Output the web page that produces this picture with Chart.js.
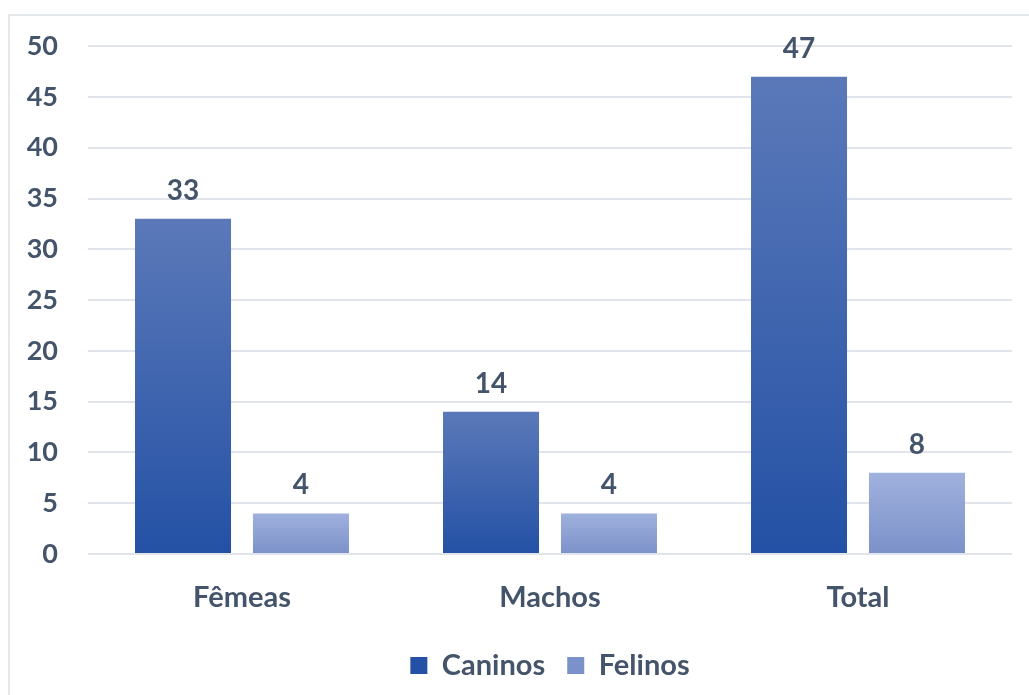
<!DOCTYPE html>
<html>
<head>
<meta charset="utf-8">
<script src="https://cdn.jsdelivr.net/npm/chart.js@4/dist/chart.umd.min.js"></script>
<style>
  html, body { margin: 0; padding: 0; background: #fff; }
  #frame { position: absolute; left: 8px; top: 14px; width: 1040px; height: 700px; border: 2px solid #e4e7eb; box-sizing: border-box; }
  #wrap { position: absolute; left: 0; top: 0; width: 1029px; height: 695px; }
</style>
</head>
<body>
<div id="frame"></div>
<div id="wrap"><canvas id="chart"></canvas></div>
<script>
const categories = ['Fêmeas', 'Machos', 'Total'];
const caninos = [33, 14, 47];
const felinos = [4, 4, 8];
const yTicks = [0, 5, 10, 15, 20, 25, 30, 35, 40, 45, 50];

const textColor = '#44546a';
const fontFamily = 'Lato, "Open Sans", sans-serif';

function barGradient(top, bottom) {
  return function (context) {
    const chart = context.chart;
    if (!chart.chartArea || context.dataIndex === undefined) return bottom;
    const y = chart.scales.y;
    const y0 = y.getPixelForValue(context.raw);
    const y1 = y.getPixelForValue(0);
    const g = chart.ctx.createLinearGradient(0, y0, 0, y1);
    g.addColorStop(0, top);
    g.addColorStop(1, bottom);
    return g;
  };
}

const valueLabels = {
  id: 'valueLabels',
  afterDatasetsDraw(chart) {
    const ctx = chart.ctx;
    ctx.save();
    ctx.fillStyle = textColor;
    ctx.font = 'bold 28px ' + fontFamily;
    ctx.textAlign = 'center';
    ctx.textBaseline = 'alphabetic';
    chart.data.datasets.forEach((ds, i) => {
      chart.getDatasetMeta(i).data.forEach((bar, j) => {
        ctx.fillText(ds.data[j], bar.x, bar.y - 19);
      });
    });
    ctx.restore();
  },
};

const ctx = document.getElementById('chart').getContext('2d');
new Chart(ctx, {
  type: 'bar',
  data: {
    labels: categories,
    datasets: [
      {
        label: 'Caninos',
        data: caninos,
        backgroundColor: barGradient('#5b79b9', '#2451a5'),
      },
      {
        label: 'Felinos',
        data: felinos,
        backgroundColor: barGradient('#a0b1dd', '#7b91c9'),
      },
    ],
  },
  options: {
    responsive: true,
    maintainAspectRatio: false,
    animation: false,
    categoryPercentage: 0.766,
    barPercentage: 0.814,
    layout: { padding: { left: 0, right: 17, top: 42, bottom: 5 } },
    scales: {
      x: {
        grid: { display: false },
        border: { display: false },
        afterFit(scale) { scale.height = 75; },
        ticks: {
          color: textColor,
          font: { family: fontFamily, size: 29, weight: 'bold' },
          padding: 18,
        },
      },
      y: {
        min: 0,
        max: 50,
        afterFit(scale) { scale.width = 88; },
        afterBuildTicks(scale) { scale.ticks = yTicks.map(v => ({ value: v })); },
        grid: { color: '#e1e4ea', lineWidth: 2, drawTicks: false },
        border: { display: false },
        ticks: {
          color: textColor,
          font: { family: fontFamily, size: 27, weight: 'bold' },
          padding: 30,
        },
      },
    },
    plugins: {
      legend: {
        position: 'bottom',
        fullSize: false,
        labels: {
          color: textColor,
          font: { family: fontFamily, size: 29, weight: 'bold' },
          boxWidth: 17,
          boxHeight: 17,
          padding: 22,
        },
      },
      tooltip: { enabled: false },
    },
  },
  plugins: [valueLabels],
});
</script>
</body>
</html>
